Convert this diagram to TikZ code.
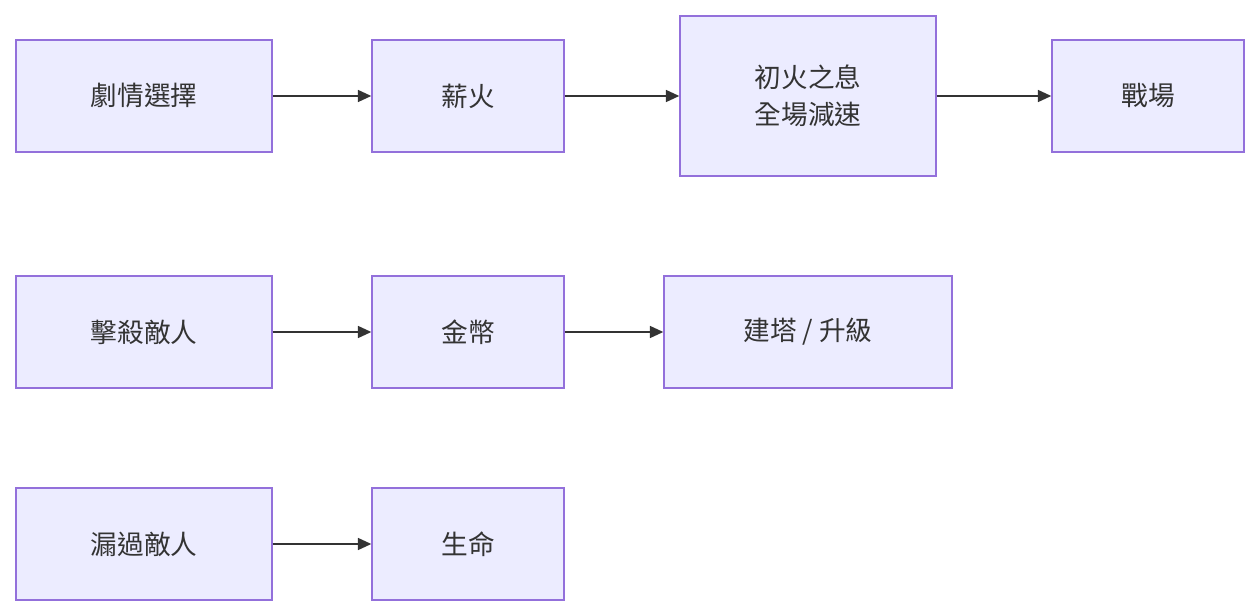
\documentclass[tikz,border=0pt]{standalone}
\usepackage{fontspec}
\newfontfamily\cjk{Noto Sans CJK TC}
\usetikzlibrary{arrows.meta}
\definecolor{boxfill}{HTML}{ECECFF}
\definecolor{boxline}{HTML}{9370DB}
\definecolor{arrowc}{HTML}{333333}
\tikzset{
  box/.style={draw=boxline, fill=boxfill, line width=1.1pt, minimum height=84pt,
    inner sep=0pt, align=center, font=\cjk\fontsize{20}{28}\selectfont, text=arrowc},
  flow/.style={draw=arrowc, line width=1.1pt, -{Triangle[length=10pt,width=9pt]}}
}
\begin{document}
\begin{tikzpicture}[x=0.75pt,y=-0.75pt]
\useasboundingbox (0,0) rectangle (1260,616);
\node[box, minimum width=192pt] (plot) at (144,96) {劇情選擇};
\node[box, minimum width=144pt] (wood) at (468,96) {薪火};
\node[box, minimum width=192pt, minimum height=120pt] (breath) at (808,96) {初火之息\\全場減速};
\node[box, minimum width=144pt] (field) at (1148,96) {戰場};
\node[box, minimum width=192pt] (kill) at (144,332) {擊殺敵人};
\node[box, minimum width=144pt] (coin) at (468,332) {金幣};
\node[box, minimum width=216pt] (tower) at (808,332) {建塔 / 升級};
\node[box, minimum width=192pt] (leak) at (144,544) {漏過敵人};
\node[box, minimum width=144pt] (life) at (468,544) {生命};
\draw[flow] (plot) -- (wood);
\draw[flow] (wood) -- (breath);
\draw[flow] (breath) -- (field);
\draw[flow] (kill) -- (coin);
\draw[flow] (coin) -- (tower);
\draw[flow] (leak) -- (life);
\end{tikzpicture}
\end{document}
